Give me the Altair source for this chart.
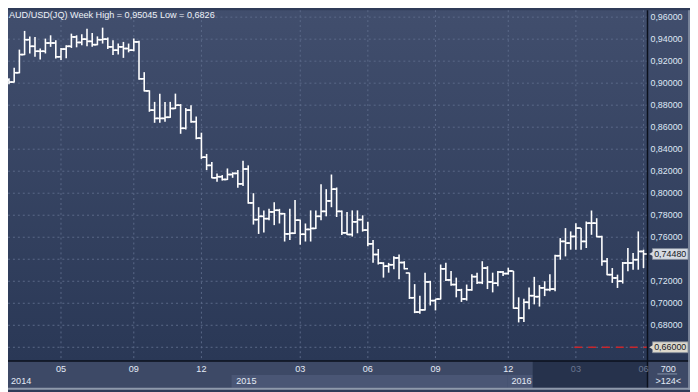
import altair as alt
import pandas as pd

# ---------------- data ----------------
open_ = [0.9030, 0.9010, 0.9095, 0.9260, 0.9395, 0.9335, 0.9290, 0.9290, 0.9365, 0.9365,
         0.9240, 0.9310, 0.9335, 0.9420, 0.9370, 0.9400, 0.9380, 0.9350, 0.9395, 0.9400,
         0.9330, 0.9300, 0.9330, 0.9315, 0.9300, 0.9375, 0.9040, 0.8930, 0.8755, 0.8680,
         0.8680, 0.8690, 0.8770, 0.8800, 0.8590, 0.8755, 0.8650, 0.8500, 0.8327, 0.8253,
         0.8140, 0.8150, 0.8125, 0.8170, 0.8180, 0.8085, 0.8220, 0.7912, 0.7760, 0.7790,
         0.7769, 0.7830, 0.7845, 0.7814, 0.7630, 0.7636, 0.7755, 0.7627, 0.7671, 0.7680,
         0.7790, 0.7835, 0.7930, 0.8037, 0.7835, 0.7640, 0.7625, 0.7740, 0.7760, 0.7665,
         0.7540, 0.7443, 0.7365, 0.7337, 0.7350, 0.7412, 0.7370, 0.7275, 0.7050, 0.6920,
         0.6940, 0.7194, 0.7024, 0.7038, 0.7313, 0.7212, 0.7170, 0.7120, 0.7039, 0.7122,
         0.7242, 0.7188, 0.7320, 0.7194, 0.7182, 0.7284, 0.7270, 0.7293, 0.6955, 0.6866,
         0.7009, 0.7069, 0.7060, 0.7140, 0.7124, 0.7129, 0.7432, 0.7562, 0.7547, 0.7607,
         0.7683, 0.7562, 0.7728, 0.7728, 0.7605, 0.7381, 0.7260, 0.7230, 0.7200, 0.7366,
         0.7366, 0.7396, 0.7471]
high = [0.9045, 0.9140, 0.9305, 0.9475, 0.9425, 0.9420, 0.9315, 0.9405, 0.9435, 0.9390,
        0.9320, 0.9345, 0.9450, 0.9435, 0.9445, 0.9495, 0.9455, 0.9425, 0.95045, 0.9415,
        0.9390, 0.9360, 0.9375, 0.9360, 0.9405, 0.9385, 0.9100, 0.8935, 0.8830, 0.8905,
        0.8830, 0.8830, 0.8905, 0.8810, 0.8775, 0.8800, 0.8697, 0.8550, 0.8357, 0.8283,
        0.8180, 0.8165, 0.8225, 0.8190, 0.8210, 0.8295, 0.8253, 0.8000, 0.7873, 0.7844,
        0.7858, 0.7918, 0.7858, 0.7820, 0.7858, 0.7939, 0.7760, 0.7725, 0.7844, 0.7844,
        0.8081, 0.8037, 0.8170, 0.8052, 0.7844, 0.7829, 0.7844, 0.7844, 0.7799, 0.7740,
        0.7576, 0.7493, 0.7373, 0.7367, 0.7427, 0.7442, 0.7382, 0.7278, 0.7174, 0.7069,
        0.7278, 0.7204, 0.7039, 0.7352, 0.7367, 0.7293, 0.7233, 0.7131, 0.7170, 0.7263,
        0.7278, 0.7382, 0.7337, 0.7278, 0.7293, 0.7293, 0.7323, 0.7293, 0.7054, 0.7040,
        0.7144, 0.7240, 0.7165, 0.7200, 0.7263, 0.7441, 0.7592, 0.7683, 0.7653, 0.7728,
        0.7683, 0.7743, 0.7843, 0.7773, 0.7613, 0.7411, 0.7320, 0.7260, 0.7375, 0.7502,
        0.7456, 0.7653, 0.7487]
low = [0.8990, 0.9005, 0.9090, 0.9255, 0.9270, 0.9240, 0.9215, 0.9270, 0.9330, 0.9225,
       0.9210, 0.9226, 0.9320, 0.9326, 0.9345, 0.9335, 0.9330, 0.9345, 0.9360, 0.9310,
       0.9255, 0.9260, 0.9230, 0.9280, 0.9290, 0.9030, 0.8925, 0.8740, 0.8640, 0.8640,
       0.8650, 0.8685, 0.8765, 0.8540, 0.8580, 0.8640, 0.8490, 0.8312, 0.8210, 0.8135,
       0.8105, 0.8115, 0.8120, 0.8140, 0.8050, 0.8066, 0.7905, 0.7715, 0.7630, 0.7642,
       0.7755, 0.7710, 0.7725, 0.7561, 0.7576, 0.7630, 0.7532, 0.7561, 0.7561, 0.7675,
       0.7755, 0.7790, 0.7873, 0.7784, 0.7621, 0.7621, 0.7606, 0.7636, 0.7651, 0.7517,
       0.7368, 0.7352, 0.7233, 0.7278, 0.7308, 0.7218, 0.7308, 0.7039, 0.6910, 0.6905,
       0.6935, 0.6980, 0.6935, 0.7035, 0.7203, 0.7159, 0.7054, 0.7012, 0.7024, 0.7114,
       0.7174, 0.7174, 0.7129, 0.7099, 0.7155, 0.7248, 0.7260, 0.6950, 0.6826, 0.6830,
       0.6945, 0.6990, 0.6970, 0.7065, 0.7110, 0.7109, 0.7396, 0.7426, 0.7487, 0.7487,
       0.7487, 0.7502, 0.7622, 0.7600, 0.7342, 0.7255, 0.7185, 0.7139, 0.7179, 0.7290,
       0.7305, 0.7305, 0.7320]
close = [0.9010, 0.9095, 0.9260, 0.9395, 0.9335, 0.9290, 0.9290, 0.9365, 0.9365, 0.9240,
         0.9310, 0.9335, 0.9420, 0.9370, 0.9400, 0.9380, 0.9350, 0.9395, 0.9400, 0.9330,
         0.9300, 0.9330, 0.9315, 0.9300, 0.9375, 0.9040, 0.8930, 0.8755, 0.8680, 0.8680,
         0.8690, 0.8770, 0.8800, 0.8590, 0.8755, 0.8650, 0.8500, 0.8327, 0.8253, 0.8140,
         0.8150, 0.8125, 0.8170, 0.8180, 0.8085, 0.8220, 0.7912, 0.7760, 0.7790, 0.7769,
         0.7830, 0.7845, 0.7814, 0.7630, 0.7636, 0.7755, 0.7627, 0.7671, 0.7680, 0.7790,
         0.7835, 0.7930, 0.8037, 0.7835, 0.7640, 0.7625, 0.7740, 0.7760, 0.7665, 0.7540,
         0.7443, 0.7365, 0.7337, 0.7350, 0.7412, 0.7370, 0.7314, 0.7050, 0.6920, 0.6940,
         0.7194, 0.7024, 0.7038, 0.7313, 0.7212, 0.7170, 0.7120, 0.7039, 0.7122, 0.7242,
         0.7188, 0.7320, 0.7194, 0.7182, 0.7284, 0.7270, 0.7293, 0.6955, 0.6866, 0.7009,
         0.7069, 0.7060, 0.7140, 0.7124, 0.7129, 0.7432, 0.7562, 0.7547, 0.7607, 0.7683,
         0.7562, 0.7728, 0.7728, 0.7605, 0.7381, 0.7260, 0.7230, 0.7200, 0.7366, 0.7366,
         0.7396, 0.7471, 0.7448]

# gridline levels, and the axis labels that are not hidden under a price box
y_grid = [0.96, 0.94, 0.92, 0.90, 0.88, 0.86, 0.84, 0.82, 0.80, 0.78, 0.76, 0.74, 0.72, 0.70, 0.68, 0.66]
y_label_values = [0.96, 0.94, 0.92, 0.90, 0.88, 0.86, 0.84, 0.82, 0.80, 0.78, 0.76, 0.72, 0.70, 0.68]
y_label_texts = ["0,96000", "0,94000", "0,92000", "0,90000", "0,88000", "0,86000", "0,84000",
                 "0,82000", "0,80000", "0,78000", "0,76000", "0,72000", "0,70000", "0,68000"]

month_pos = [10, 24, 37, 56, 69, 82, 96, 109, 122]
month_labels = ["05", "09", "12", "03", "06", "09", "12", "03", "06"]
month_dim = [False, False, False, False, False, False, False, True, True]

year_labels = ["2014", "2015", "2016"]
year_label_pos = [0.4, 43.7, 96.6]
year_cell_start = [42.8, 95.8]
year_cell_end = [95.8, 100.7]
future_start = 100.7

last_price = 0.7448
last_price_label = "0,74480"
ref_level = 0.66
ref_level_label = "0,66000"
ref_start = 108.7

title_text = "AUD/USD(JQ) Week High = 0,95045 Low = 0,6826"
corner_top = "700"
corner_bottom = ">124<"

# ---------------- chart ----------------
W, H = 647, 355
FULLW, FULLH = 690, 384
FONT = "Liberation Sans"

xs = alt.Scale(domain=[-0.19, 122.77], nice=False, zero=False)
ys = alt.Scale(domain=[0.64743, 0.96629], nice=False, zero=False)


def X(f):
    return alt.X(f, type="quantitative", scale=xs, axis=None)


def X2(f):
    return alt.X2(f)


def Y(f):
    return alt.Y(f, type="quantitative", scale=ys, axis=None)


one = alt.Data(values=[{}])

grad = alt.Gradient(gradient="linear",
                    stops=[alt.GradientStop(color="#414e6d", offset=0),
                           alt.GradientStop(color="#2a3856", offset=1)],
                    x1=0, x2=0, y1=0, y2=1)

bg = alt.Chart(one).mark_rect(fill=grad).encode(
    x=alt.value(0), x2=alt.value(FULLW), y=alt.value(0), y2=alt.value(H))

band = alt.Chart(one).mark_rect(color="#3d4966").encode(
    x=alt.value(0), x2=alt.value(FULLW), y=alt.value(H), y2=alt.value(FULLH))

cells = alt.Chart(pd.DataFrame({"s": year_cell_start, "e": year_cell_end})).mark_rect(
    color="#4a5675").encode(x=X("s"), x2=X2("e"), y=alt.value(H + 14), y2=alt.value(FULLH - 2))

future = alt.Chart(pd.DataFrame({"s": [future_start]})).mark_rect(color="#26324c").encode(
    x=X("s"), x2=alt.value(W), y=alt.value(H), y2=alt.value(FULLH - 2))

hgrid = alt.Chart(pd.DataFrame({"v": y_grid})).mark_rule(
    color="#5b6989", strokeWidth=1, strokeDash=[2, 3]).encode(
    y=Y("v"), x=alt.value(0), x2=alt.value(W))

vgrid = alt.Chart(pd.DataFrame({"p": month_pos})).mark_rule(
    color="#5b6989", strokeWidth=1, strokeDash=[2, 3]).encode(
    x=X("p"), y=alt.value(0), y2=alt.value(H))

refline = alt.Chart(pd.DataFrame({"v": [ref_level], "s": [ref_start]})).mark_rule(
    color="#c8262c", strokeWidth=1.5, strokeDash=[8, 6]).encode(
    y=Y("v"), x=X("s"), x2=alt.value(W))

ohlc = pd.DataFrame({"i": list(range(len(close))), "o": open_, "h": high, "l": low, "c": close})
base = alt.Chart(ohlc).transform_calculate(xo="datum.i - 0.72", xc="datum.i + 0.72")
vbar = base.mark_rule(color="#ffffff", strokeWidth=1.6).encode(x=X("i"), y=Y("l"), y2=alt.Y2("h"))
otick = base.mark_rule(color="#ffffff", strokeWidth=1.6).encode(x=X("xo:Q"), x2=X2("i"), y=Y("o"))
ctick = base.mark_rule(color="#ffffff", strokeWidth=1.6).encode(x=X("i"), x2=X2("xc:Q"), y=Y("c"))

hsep = alt.Chart(one).mark_rule(color="#0b101c", strokeWidth=1.5).encode(
    x=alt.value(0), x2=alt.value(FULLW), y=alt.value(H))
vsep = alt.Chart(one).mark_rule(color="#0b101c", strokeWidth=1.5).encode(
    x=alt.value(W), y=alt.value(0), y2=alt.value(FULLH))
bottom_border = alt.Chart(one).mark_rule(color="#8e99ab", strokeWidth=2).encode(
    x=alt.value(0), x2=alt.value(FULLW), y=alt.value(FULLH - 1))
right_border = alt.Chart(one).mark_rule(color="#8e99ab", strokeWidth=1.5).encode(
    x=alt.value(FULLW - 1), y=alt.value(0), y2=alt.value(FULLH))

ylabels = alt.Chart(pd.DataFrame({"v": y_label_values, "t": y_label_texts})).mark_text(
    align="left", baseline="middle", font=FONT, fontSize=9, color="#dfe7f4").encode(
    x=alt.value(W + 3), y=Y("v"), text="t:N")

boxes_df = pd.DataFrame({"v": [last_price, ref_level], "t": [last_price_label, ref_level_label],
                         "f": ["#d4d9e1", "#dcd8cc"]})
boxes = alt.Chart(boxes_df).mark_rect(yOffset=-5.5, y2Offset=5.5, stroke="#7d8696", strokeWidth=0.8).encode(
    x=alt.value(W + 5), x2=alt.value(W + 41), y=Y("v"), y2=alt.Y2("v"),
    fill=alt.Fill("f:N", scale=None))
pointers = alt.Chart(boxes_df).mark_point(shape="triangle-left", filled=True, size=28, opacity=1).encode(
    x=alt.value(W + 4), y=Y("v"), color=alt.Color("f:N", scale=None))
boxtext = alt.Chart(boxes_df).mark_text(align="center", baseline="middle", font=FONT, fontSize=9,
                                        color="#15181f").encode(
    x=alt.value(W + 23), y=Y("v"), text="t:N")

mdf = pd.DataFrame({"p": month_pos, "t": month_labels,
                    "col": ["#6a7690" if d else "#e4ebf6" for d in month_dim]})
mlabels = alt.Chart(mdf).mark_text(align="center", baseline="middle", font=FONT, fontSize=9.2).encode(
    x=X("p"), y=alt.value(H + 8), text="t:N", color=alt.Color("col:N", scale=None))

ylab = alt.Chart(pd.DataFrame({"p": year_label_pos, "t": year_labels})).mark_text(
    align="left", baseline="middle", font=FONT, fontSize=9.2, color="#e4ebf6").encode(
    x=X("p"), y=alt.value(H + 20), text="t:N")

title = alt.Chart(pd.DataFrame({"t": [title_text]})).mark_text(
    align="left", baseline="middle", font=FONT, fontSize=9.2, color="#eef2f8").encode(
    x=alt.value(1), y=alt.value(5), text="t:N")

corner = alt.Chart(pd.DataFrame({"t": [corner_top, corner_bottom], "y": [H + 8, H + 20]})).mark_text(
    align="center", baseline="middle", font=FONT, fontSize=9.2, color="#e4ebf6").encode(
    x=alt.value(W + 21), y=alt.Y("y:Q", scale=None), text="t:N")
corner_line = alt.Chart(one).mark_rule(color="#8593aa", strokeWidth=1).encode(
    x=alt.value(W + 10), x2=alt.value(W + 30), y=alt.value(H + 13))

chart = alt.layer(
    bg, band, cells, future, hgrid, vgrid, refline, vbar, otick, ctick,
    hsep, vsep, bottom_border, right_border, ylabels, boxes, pointers, boxtext,
    mlabels, ylab, title, corner, corner_line
).properties(
    width=W, height=H,
    padding={"left": 0, "top": 0, "right": FULLW - W, "bottom": FULLH - H},
    autosize=alt.AutoSizeParams(type="none"),
    background="#2f3b58",
).configure_view(stroke=None)

chart.save("out.html", embed_options={"renderer": "svg", "actions": False})
